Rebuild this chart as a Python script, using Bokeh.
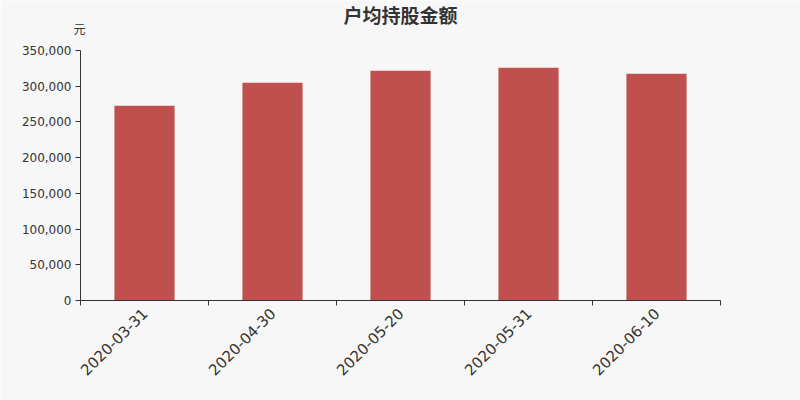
import math
from bokeh.plotting import figure
from bokeh.models import FixedTicker, Range1d, NumeralTickFormatter, Label
from bokeh.embed import file_html
from bokeh.resources import INLINE

title_text = "户均持股金额"
unit_text = "元"
dates = ["2020-03-31", "2020-04-30", "2020-05-20", "2020-05-31", "2020-06-10"]
values = [272600, 305000, 321500, 326000, 317500]
y_ticks = [0, 50000, 100000, 150000, 200000, 250000, 300000, 350000]
y_max = 350000

xs = list(range(1, len(dates) + 1))
n = len(dates)

# frame spans the whole canvas; axes are pinned at data locations
PX_X = 128.0          # pixels per category
PX_Y = 250.0 / y_max  # pixels per unit value
x_start = 0.5 - 80 / PX_X
x_end = n + 0.5 + 80 / PX_X
y_start = -100 / PX_Y
y_end = 300 / PX_Y

p = figure(width=800, height=400, output_backend="svg", toolbar_location=None,
           x_range=Range1d(x_start, x_end), y_range=Range1d(y_start, y_end),
           min_border=0, title=None)
p.background_fill_color = "#f7f7f7"
p.border_fill_color = "#f7f7f7"
p.outline_line_color = None
p.grid.visible = False

p.vbar(x=xs, top=values, width=0.47, fill_color="#c0504d", line_color=None)

p.xaxis.fixed_location = 0
p.xaxis.bounds = (0.5, n + 0.5)
p.xaxis.ticker = FixedTicker(ticks=xs, minor_ticks=[x - 0.5 for x in xs] + [xs[-1] + 0.5])
p.xaxis.major_label_overrides = {x: d for x, d in zip(xs, dates)}
p.xaxis.major_tick_out = 0
p.xaxis.major_tick_in = 0
p.xaxis.minor_tick_out = 5
p.xaxis.minor_tick_in = 0
p.xaxis.major_label_orientation = math.pi / 4
p.xaxis.major_label_text_font_size = "15px"
p.xaxis.major_label_standoff = 5

p.yaxis.fixed_location = 0.5
p.yaxis.bounds = (0, y_max)
p.yaxis.ticker = FixedTicker(ticks=y_ticks, minor_ticks=[])
p.yaxis.formatter = NumeralTickFormatter(format="0,0")
p.yaxis.major_tick_out = 5
p.yaxis.major_tick_in = 0
p.yaxis.major_label_text_font_size = "12px"
p.yaxis.major_label_standoff = 4

for ax in (p.xaxis, p.yaxis):
    ax.axis_line_color = "#333333"
    ax.major_tick_line_color = "#333333"
    ax.minor_tick_line_color = "#333333"
    ax.major_label_text_color = "#333333"
    ax.major_label_text_font = "DejaVu Sans"

p.add_layout(Label(x=0.5, y=y_max, x_offset=-1, y_offset=22, text=unit_text,
                   text_align="center", text_baseline="middle",
                   text_font="Noto Sans CJK SC", text_font_size="12px", text_color="#333333"))
p.add_layout(Label(x=(n + 1) / 2, y=y_end, y_offset=-14, text=title_text,
                   text_align="center", text_baseline="middle",
                   text_font="Noto Sans CJK SC", text_font_size="19px", text_font_style="bold",
                   text_color="#333333"))

open("out.html", "w").write(file_html(p, INLINE))
